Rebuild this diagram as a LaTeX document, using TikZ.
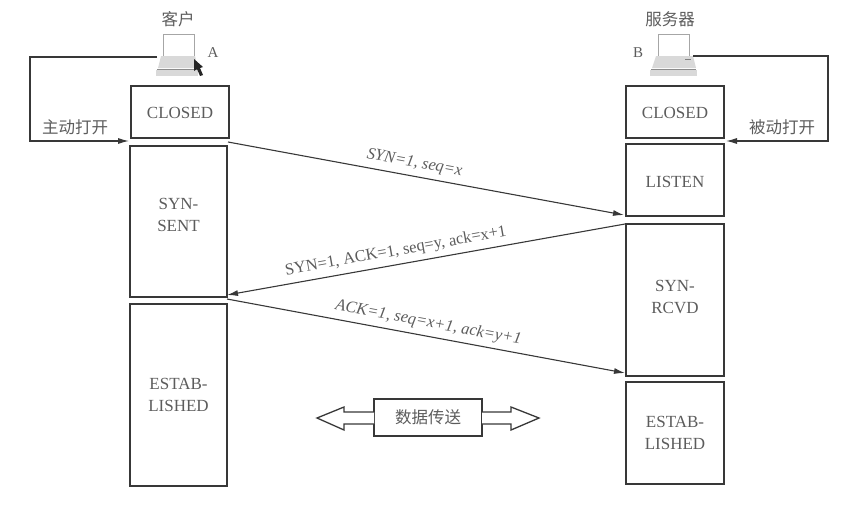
\documentclass[tikz,border=0pt]{standalone}
\usepackage{fontspec}
\setmainfont{Liberation Serif}
\newfontfamily\cjk{Noto Sans CJK SC}
\usetikzlibrary{arrows.meta,calc}
\definecolor{ink}{gray}{0.22}
\definecolor{txt}{gray}{0.36}
\tikzset{
  st/.style={draw=ink,line width=1.6pt,text=txt,font=\fontsize{17}{22}\selectfont,align=center,inner sep=0pt,outer sep=0pt,anchor=north west},
  tip/.style={-{Latex[length=11pt,width=6pt]}},
  msg/.style={draw=ink,line width=1.1pt,tip},
  lbl/.style={text=txt,font=\fontsize{16.5}{19}\selectfont,inner sep=0pt},
  lbli/.style={text=txt,font=\itshape\fontsize{16.5}{19}\selectfont,inner sep=0pt},
  cn/.style={text=txt,font=\cjk\fontsize{16.5}{19}\selectfont,inner sep=0pt},
  ln/.style={draw=ink,line width=1.1pt},
  hollow/.style={draw=ink,line width=1.3pt,fill=white,line join=miter},
}
\newcommand{\stbox}[7]{\node[st,minimum width=#3pt,minimum height=#4pt] (#5) at (#1,#2) {};
  \node[st,draw=none,anchor=center] at ($(#5.center)+(0,#6)$) {#7};}
\begin{document}
\begin{tikzpicture}[x=1pt,y=-1pt]
\useasboundingbox (0,0) rectangle (854,512);
% left boxes
\stbox{131}{86}{98}{52}{lc}{1}{CLOSED}
\stbox{130}{146}{97}{151}{ls}{-7}{SYN-\\SENT}
\stbox{130}{304}{97}{182}{le}{0}{ESTAB-\\LISHED}
% right boxes
\stbox{626}{86}{98}{52}{rc}{1}{CLOSED}
\stbox{626}{144}{98}{72}{rl}{2}{LISTEN}
\stbox{626}{224}{98}{152}{rs}{-3}{SYN-\\RCVD}
\stbox{626}{382}{98}{102}{re}{0}{ESTAB-\\LISHED}
% laptops
\node[cn] (ca) at (178,19) {客户};
\node[cn] (cb) at (670,19) {服务器};
\node[text=txt,font=\fontsize{15}{16}\selectfont,inner sep=0pt] (la) at (213,53) {A};
\node[text=txt,font=\fontsize{15}{16}\selectfont,inner sep=0pt] (lb) at (638,53) {B};
% client laptop
\draw[draw=gray!70,line width=0.9pt,fill=white] (163,56) -- (163,34) -- (194,34) -- (194,56);
\fill[gray!30] (161,56) -- (195,56) -- (198,68) -- (158,68) -- cycle;
\fill[gray!30] (156,70) rectangle (198,76);
\draw[draw=gray!90,line width=0.9pt] (157,69) -- (198,69);
\coordinate (al) at (157,57);
% cursor
\fill[black!85] (194,59) -- (194,71) -- (197,69) -- (200,76) -- (203,75) -- (200,68) -- (203,67) -- cycle;
% server laptop
\draw[draw=gray!70,line width=0.9pt,fill=white] (658,56) -- (658,34) -- (689,34) -- (689,56);
\fill[gray!30] (656,56) -- (693,56) -- (696,68) -- (652,68) -- cycle;
\fill[gray!30] (650,70) rectangle (697,76);
\draw[draw=gray!90,line width=0.9pt] (651,69) -- (696,69);
\draw[draw=gray,line width=1pt] (685,59) -- (691,59);
\coordinate (bl) at (693,56);
% open arrows
\coordinate (lm) at (30,57);
\coordinate (lb2) at (30,141);
\coordinate (lt) at (129,141);
\draw[ln,tip] (al) -- (lm) -- (lb2) -- (lt);
\node[cn] (oa) at (75,127) {主动打开};
\coordinate (rm) at (828,56);
\coordinate (rb) at (828,141);
\coordinate (rt) at (726,141);
\draw[ln,tip] (bl) -- (rm) -- (rb) -- (rt);
\node[cn] (ob) at (782,127) {被动打开};
% messages
\coordinate (m1a) at (228,142);
\coordinate (m1b) at (624,215);
\coordinate (m2a) at (625,224);
\coordinate (m2b) at (227,295);
\coordinate (m3a) at (227,299);
\coordinate (m3b) at (625,373);
\draw[msg] (m1a) -- (m1b) node[lbli,pos=0.465,sloped,above=5pt] {SYN=1, seq=x};
\draw[msg] (m2a) -- (m2b) node[lbl,pos=0.57,sloped,above=5pt] {SYN=1, ACK=1, seq=y, ack=x+1};
\draw[msg] (m3a) -- (m3b) node[lbli,pos=0.5,sloped,above=5pt] {ACK=1, seq=x+1, ack=y+1};
% data transfer
\node[st,minimum width=108pt,minimum height=37pt] (dt) at (374,399) {};
\node[cn] (dtt) at (dt.center) {数据传送};
\coordinate (dl1) at (374,412);
\coordinate (dl2) at (374,424);
\coordinate (dr1) at (482,412);
\coordinate (dr2) at (482,424);
\draw[hollow] (dl1) -- (344,412) -- (344,407) -- (317,418) -- (344,430) -- (344,424) -- (dl2);
\draw[hollow] (dr1) -- (511,412) -- (511,407) -- (539,418) -- (511,430) -- (511,424) -- (dr2);
\end{tikzpicture}
\end{document}
